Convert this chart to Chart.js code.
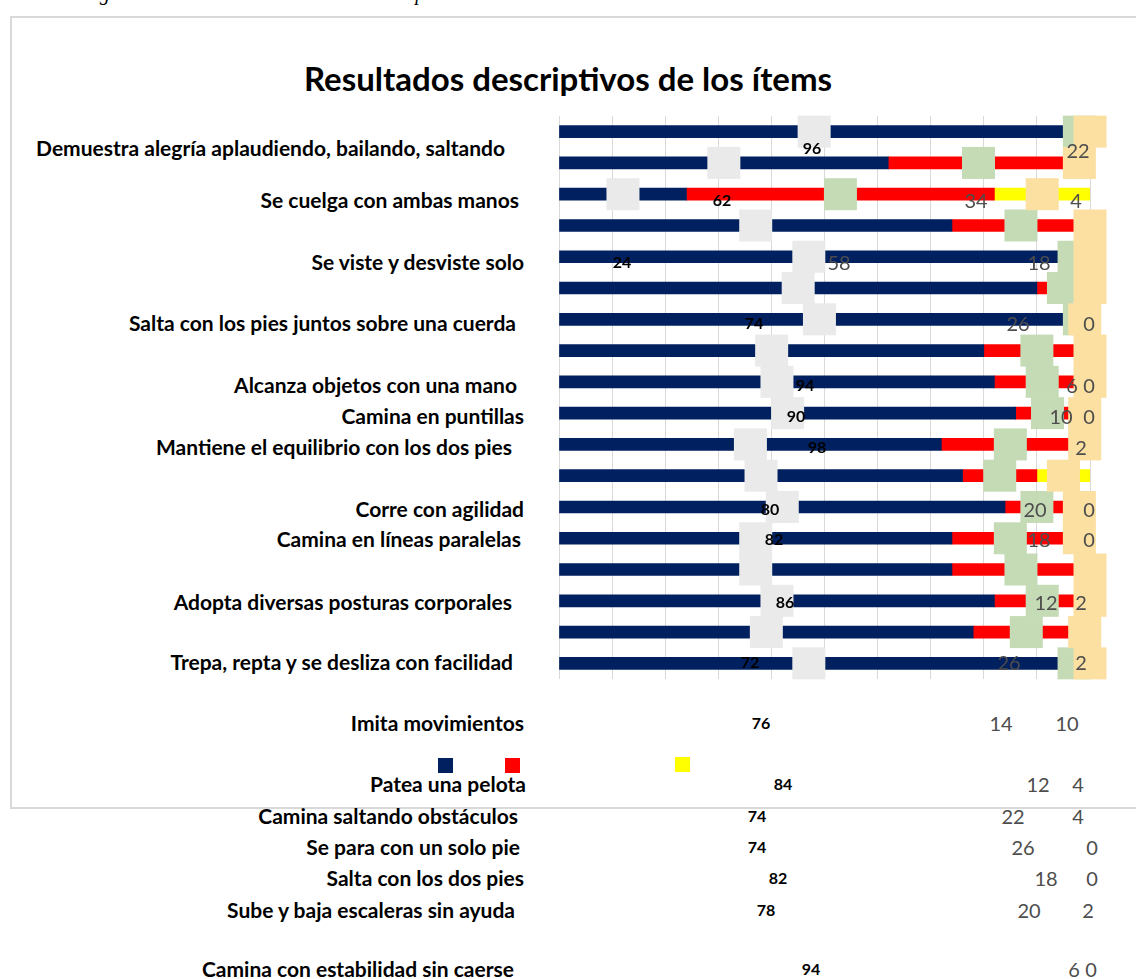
<!DOCTYPE html>
<html lang="es">
<head>
<meta charset="utf-8">
<title>Resultados descriptivos de los ítems</title>
<script src="https://cdn.jsdelivr.net/npm/chart.js@4"></script>
<style>
  body { margin: 0; background: #fff; overflow: hidden; }
  #page { position: relative; width: 1136px; height: 979px; overflow: hidden; font-family: Lato, "Open Sans", sans-serif; }
  .caption { position: absolute; left: 82px; top: -17px; font: italic 20px/20px "Liberation Serif", serif; white-space: nowrap; color: #000; }
  .frame { position: absolute; left: 10px; top: 16px; width: 1200px; height: 793px; border: 2px solid #d9d9d9; box-sizing: border-box; }
  .title { position: absolute; left: 0; width: 1136px; top: 58px; line-height: 40px; text-align: center; font-weight: 700; font-size: 33px; color: #000; }
  #plot { position: absolute; left: 540px; top: 100px; width: 580px; height: 600px; }
  .item { position: absolute; font-weight: 700; font-size: 21px; line-height: 24px; white-space: nowrap; color: #000; }
  .val { position: absolute; transform: translate(-50%, -50%); white-space: nowrap; line-height: 1; }
  .val.main { font-weight: 700; font-size: 16px; color: #000; }
  .val.rest { font-size: 20px; color: #4d4d4d; }
  .key { position: absolute; width: 15px; height: 15px; }
</style>
</head>
<body>
<div id="page">
  <div class="caption">Figura 3 Análisis de los resultados descriptivos</div>
  <div class="frame"></div>
  <div class="title">Resultados descriptivos de los ítems</div>
  <div id="plot"><canvas id="chart" width="580" height="600"></canvas></div>
  <div id="labels"></div>
</div>
<script>
// items, top to bottom
const items = [
  'Demuestra alegría aplaudiendo, bailando, saltando',
  'Se cuelga con ambas manos',
  'Se viste y desviste solo',
  'Salta con los pies juntos sobre una cuerda',
  'Alcanza objetos con una mano',
  'Camina en puntillas',
  'Mantiene el equilibrio con los dos pies',
  'Corre con agilidad',
  'Camina en líneas paralelas',
  'Adopta diversas posturas corporales',
  'Trepa, repta y se desliza con facilidad',
  'Imita movimientos',
  'Patea una pelota',
  'Camina saltando obstáculos',
  'Se para con un solo pie',
  'Salta con los dos pies',
  'Sube y baja escaleras sin ayuda',
  'Camina con estabilidad sin caerse'
];

// percentages per item
const logrado   = [96, 62, 24, 74, 94, 90, 98, 80, 82, 86, 72, 76, 84, 74, 74, 82, 78, 94];
const enProceso = [4, 34, 58, 26, 6, 10, 0, 20, 18, 12, 26, 14, 12, 22, 26, 18, 20, 6];
const noLogrado = [0, 4, 18, 0, 0, 0, 2, 0, 0, 2, 2, 10, 4, 4, 0, 0, 2, 0];

const xTicks = [0, 10, 20, 30, 40, 50, 60, 70, 80, 90, 100];

const COLORS = ['#002060', '#ff0000', '#ffff00'];
const BOX_COLORS = ['#eaeaea', '#c5dbb6', '#fbe0a2'];
const BOX_W = 33, BOX_H = 32;

// text layer layout (page px)
const lineY      = [148, 200, 262, 323, 385, 416, 447, 509, 539, 602, 662, 723, 784, 816, 847, 878, 910, 969];
const labelRight = [505, 519, 524, 516, 517, 524, 512, 524, 521, 512, 513, 524, 526, 518, 520, 524, 515, 514];
const xLogrado   = [812, 722, 622, 754, 805, 796, 817, 770, 774, 785, 750, 761, 783, 757, 757, 778, 766, 811];
const xProceso   = [null, 976, 839, 1018, 1072, 1061, null, 1035, 1039, 1046, 1009, 1001, 1038, 1013, 1023, 1046, 1029, 1074];
const xNoLogrado = [null, 1076, 1039, 1089, 1089, 1089, 1081, 1089, 1089, 1081, 1081, 1067, 1078, 1078, 1092, 1092, 1088, 1091];

// label boxes drawn centred on each segment (their text sits in the layer below)
const labelBoxes = {
  id: 'labelBoxes',
  afterDatasetsDraw(chart) {
    const ctx = chart.ctx;
    chart.data.datasets.forEach((ds, i) => {
      ctx.fillStyle = BOX_COLORS[i];
      chart.getDatasetMeta(i).data.forEach(bar => {
        const cx = (bar.x + bar.base) / 2;
        ctx.fillRect(cx - BOX_W / 2, bar.y - BOX_H / 2, BOX_W, BOX_H);
      });
    });
  }
};

new Chart(document.getElementById('chart'), {
  type: 'bar',
  data: {
    labels: items,
    datasets: [
      { label: 'Logrado', data: logrado, backgroundColor: COLORS[0] },
      { label: 'En proceso', data: enProceso, backgroundColor: COLORS[1] },
      { label: 'No logrado', data: noLogrado, backgroundColor: COLORS[2] }
    ]
  },
  options: {
    indexAxis: 'y',
    responsive: false,
    animation: false,
    barThickness: 12,
    layout: { padding: { left: 19, right: 30, top: 16, bottom: 21 } },
    plugins: { legend: { display: false }, tooltip: { enabled: false } },
    scales: {
      x: {
        stacked: true, min: 0, max: 100,
        afterBuildTicks: s => { s.ticks = xTicks.map(v => ({ value: v })); },
        ticks: { display: false },
        grid: { color: '#d9d9d9', drawTicks: false },
        border: { display: false }
      },
      y: { stacked: true, display: false }
    }
  },
  plugins: [labelBoxes]
});

// item names and value texts
const layer = document.getElementById('labels');
function addText(cls, text, x, y) {
  const el = document.createElement('div');
  el.className = cls;
  el.textContent = text;
  el.style.left = x + 'px';
  el.style.top = y + 'px';
  layer.appendChild(el);
  return el;
}

items.forEach((name, i) => {
  const el = addText('item', name, 0, lineY[i] - 12);
  el.style.left = '';
  el.style.right = (1136 - labelRight[i]) + 'px';
  addText('val main', logrado[i], xLogrado[i], lineY[i]);
  if (xProceso[i] !== null) addText('val rest', enProceso[i], xProceso[i], lineY[i]);
  if (xNoLogrado[i] !== null) addText('val rest', noLogrado[i], xNoLogrado[i], lineY[i]);
});
addText('val rest', '22', 1078, lineY[0] + 2);

// legend keys (their names are not printed)
[438, 505, 675].forEach((x, i) => {
  const k = document.createElement('div');
  k.className = 'key';
  k.style.left = x + 'px';
  k.style.top = (i === 2 ? 757 : 758) + 'px';
  k.style.background = COLORS[i];
  layer.appendChild(k);
});
</script>
</body>
</html>
